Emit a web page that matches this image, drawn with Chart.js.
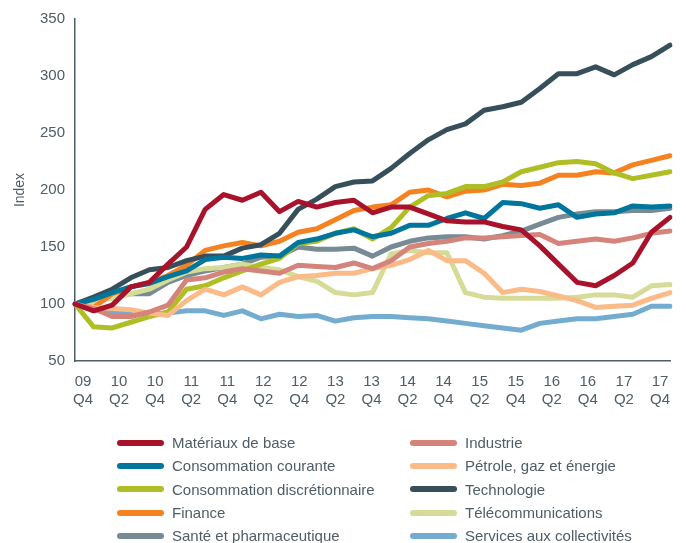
<!DOCTYPE html>
<html>
<head>
<meta charset="utf-8">
<script src="https://cdn.jsdelivr.net/npm/chart.js@4.4.1/dist/chart.umd.min.js"></script>
<style>
    body { margin: 0; background: #fff; }
    #wrap { position: relative; width: 686px; height: 543px; }
    #legend {
        position: absolute; left: 117px; top: 431px;
        display: grid; grid-template-columns: 293px auto; grid-auto-rows: 23.3px;
        font-family: "Liberation Sans", Arial, sans-serif; font-size: 15px; color: #4f5d66;
    }
    #legend .item { display: flex; align-items: center; white-space: nowrap; }
    #legend .swatch { width: 47px; height: 6px; border-radius: 3px; margin-right: 8px; }
</style>
</head>
<body>
<div id="wrap">
    <canvas id="chart" width="686" height="543"></canvas>
    <div id="legend"></div>
</div>
<script>
// quarters, 09 Q4 -> 17 Q4
const quarters = [
    "09 Q4", "10 Q1", "10 Q2", "10 Q3", "10 Q4", "11 Q1", "11 Q2", "11 Q3", "11 Q4",
    "12 Q1", "12 Q2", "12 Q3", "12 Q4", "13 Q1", "13 Q2", "13 Q3", "13 Q4",
    "14 Q1", "14 Q2", "14 Q3", "14 Q4", "15 Q1", "15 Q2", "15 Q3", "15 Q4",
    "16 Q1", "16 Q2", "16 Q3", "16 Q4", "17 Q1", "17 Q2", "17 Q3", "17 Q4"
];
const tickLabels = [
    ["09", "Q4"], ["10", "Q2"], ["10", "Q4"], ["11", "Q2"], ["11", "Q4"], ["12", "Q2"],
    ["12", "Q4"], ["13", "Q2"], ["13", "Q4"], ["14", "Q2"], ["14", "Q4"], ["15", "Q2"],
    ["15", "Q4"], ["16", "Q2"], ["16", "Q4"], ["17", "Q2"], ["17", "Q4"]
];

const materiaux = [100, 94, 99, 115, 119, 135, 150, 183, 196, 191, 198, 181, 190, 185, 189, 191, 180, 185, 185, 179, 173, 172, 172, 168, 165, 151, 135, 119, 116, 125, 136, 163, 176];
const industrie = [100, 96, 89, 89, 93, 99, 121, 123, 128, 131, 129, 127, 134, 133, 132, 136, 131, 138, 150, 153, 155, 158, 158, 159, 160, 161, 153, 155, 157, 155, 158, 162, 164];
const consoCourante = [100, 104, 110, 115, 118, 124, 129, 139, 141, 140, 143, 142, 154, 157, 162, 165, 159, 162, 169, 169, 175, 180, 175, 189, 188, 184, 187, 176, 179, 180, 186, 185, 186];
const petrole = [100, 97, 96, 95, 92, 90, 103, 113, 108, 115, 108, 119, 124, 125, 127, 127, 131, 134, 139, 147, 138, 138, 127, 110, 113, 111, 107, 103, 97, 98, 99, 105, 110];
const consoDiscr = [100, 80, 79, 84, 89, 93, 113, 116, 123, 129, 135, 140, 153, 155, 162, 166, 157, 167, 185, 195, 197, 203, 203, 207, 216, 220, 224, 225, 223, 215, 210, 213, 216];
const technologie = [100, 106, 113, 123, 130, 132, 138, 142, 142, 149, 152, 162, 183, 192, 203, 207, 208, 219, 232, 244, 253, 258, 270, 273, 277, 289, 302, 302, 308, 301, 310, 317, 327];
const finance = [100, 97, 109, 115, 119, 125, 134, 147, 151, 154, 151, 155, 163, 166, 174, 182, 185, 187, 198, 200, 194, 199, 200, 205, 204, 206, 213, 213, 216, 215, 222, 226, 230];
const telecom = [100, 102, 105, 109, 113, 121, 128, 131, 132, 135, 132, 130, 124, 120, 110, 108, 110, 144, 147, 145, 145, 110, 106, 105, 105, 105, 105, 106, 108, 108, 106, 116, 117];
const sante = [100, 103, 108, 109, 109, 119, 125, 129, 132, 135, 141, 142, 150, 148, 148, 149, 142, 150, 155, 158, 159, 159, 157, 160, 164, 170, 176, 179, 181, 181, 182, 182, 184];
const services = [100, 95, 92, 92, 91, 92, 94, 94, 90, 94, 87, 91, 89, 90, 85, 88, 89, 89, 88, 87, 85, 83, 81, 79, 77, 83, 85, 87, 87, 89, 91, 98, 98];

const axisColor = "#4f5d66";
Chart.defaults.font.family = '"Liberation Sans", Arial, sans-serif';
Chart.defaults.color = axisColor;

function serie(label, data, color) {
    return {
        label: label,
        data: data,
        borderColor: color,
        backgroundColor: color,
        borderWidth: 5,
        pointRadius: 0,
        tension: 0,
        borderJoinStyle: 'round',
        borderCapStyle: 'round'
    };
}

// first dataset is drawn on top
const datasets = [
    serie("Matériaux de base", materiaux, "#a8122b"),
    serie("Industrie", industrie, "#d4847b"),
    serie("Consommation courante", consoCourante, "#00769c"),
    serie("Pétrole, gaz et énergie", petrole, "#fbbb88"),
    serie("Consommation discrétionnaire", consoDiscr, "#b0be25"),
    serie("Technologie", technologie, "#364f5b"),
    serie("Finance", finance, "#f58220"),
    serie("Télécommunications", telecom, "#d6db97"),
    serie("Santé et pharmaceutique", sante, "#778b95"),
    serie("Services aux collectivités", services, "#74acd0")
];

const chart = new Chart(document.getElementById("chart"), {
    type: 'line',
    data: { labels: quarters, datasets: datasets },
    options: {
        responsive: false,
        animation: false,
        layout: { padding: { top: 17, right: 16, bottom: 0, left: 0 } },
        plugins: {
            legend: { display: false },
            tooltip: { enabled: false }
        },
        scales: {
            x: { display: false, offset: false },
            // label axis: 17 ticks spread like the original
            xLabels: {
                type: 'linear',
                position: 'bottom',
                min: -0.222,
                max: 16.278,
                grid: { display: false, drawTicks: false },
                border: { display: true, color: axisColor, width: 1.5 },
                ticks: {
                    stepSize: 1,
                    includeBounds: false,
                    autoSkip: false,
                    maxRotation: 0,
                    padding: 12,
                    font: { size: 15 },
                    color: axisColor,
                    callback: v => tickLabels[v]
                },
                afterFit: scale => { scale.height = 182; }
            },
            y: {
                min: 50,
                max: 350,
                grid: { display: false, drawTicks: false },
                border: { display: true, color: axisColor, width: 1.5 },
                ticks: { stepSize: 50, padding: 10, font: { size: 15 }, color: axisColor },
                title: {
                    display: true,
                    text: 'Index',
                    font: { size: 14 },
                    color: axisColor,
                    padding: { top: 12, bottom: 0 }
                },
                afterFit: scale => { scale.width = 75; }
            }
        }
    }
});

// legend, built from the datasets
const legendBox = document.getElementById("legend");
chart.data.datasets.forEach(ds => {
    const item = document.createElement("div");
    item.className = "item";
    const sw = document.createElement("span");
    sw.className = "swatch";
    sw.style.background = ds.borderColor;
    const txt = document.createElement("span");
    txt.textContent = ds.label;
    item.appendChild(sw);
    item.appendChild(txt);
    legendBox.appendChild(item);
});
</script>
</body>
</html>
